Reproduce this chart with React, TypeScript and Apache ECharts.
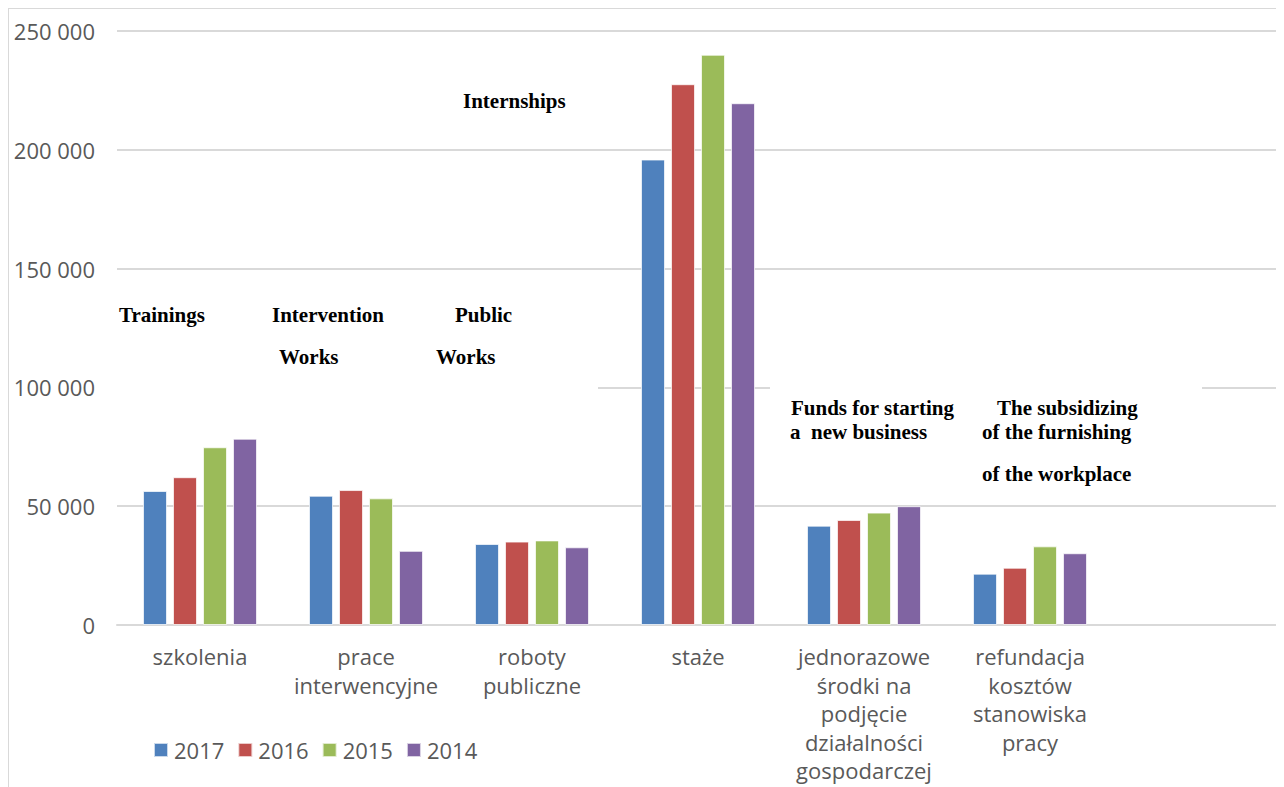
import React, { useEffect, useRef } from "react";
import * as echarts from "echarts";

const categories = [
  "szkolenia",
  "prace\ninterwencyjne",
  "roboty\npubliczne",
  "staże",
  "jednorazowe\nśrodki na\npodjęcie\ndziałalności\ngospodarczej",
  "refundacja\nkosztów\nstanowiska\npracy",
  "",
];
const seriesNames = ["2017", "2016", "2015", "2014"];
const values2017 = [56400, 54400, 34100, 195900, 41800, 21600, null];
const values2016 = [62200, 56800, 35100, 227600, 44200, 24100, null];
const values2015 = [74800, 53300, 35600, 240000, 47300, 33100, null];
const values2014 = [78400, 31200, 32700, 219600, 50000, 30200, null];
const colors = ["#4F81BD", "#C0504D", "#9BBB59", "#8064A2"];
const yTicks = { min: 0, max: 250000, interval: 50000 };

const annotations = [
  { text: "Internships", x: 455, y: 93 },
  { text: "Trainings", x: 111, y: 307 },
  { text: "Intervention", x: 264, y: 307 },
  { text: "Works", x: 271, y: 349 },
  { text: "Public", x: 447, y: 307 },
  { text: "Works", x: 428, y: 349 },
  { text: "Funds for starting", x: 783, y: 400 },
  { text: "a  new business", x: 782, y: 424 },
  { text: "The subsidizing", x: 989, y: 400 },
  { text: "of the furnishing", x: 974, y: 424 },
  { text: "of the workplace", x: 974, y: 466 },
];

const fmt = (v: number) => String(v).replace(/\B(?=(\d{3})+(?!\d))/g, " ");

export default function App() {
  const ref = useRef<HTMLDivElement>(null);
  useEffect(() => {
    if (!ref.current) return;
    const chart = echarts.init(ref.current, undefined, { renderer: "svg" });
    const all = [values2017, values2016, values2015, values2014];
    const font = '"Open Sans", sans-serif';
    chart.setOption({
      animation: false,
      color: colors,
      grid: { left: 109, right: 5, top: 23, bottom: 162, containLabel: false },
      legend: {
        left: 140,
        top: 726,
        itemWidth: 14,
        itemHeight: 14,
        itemGap: 13,
        icon: "rect",
        data: seriesNames,
        textStyle: { fontFamily: font, fontSize: 22, color: "#595959", padding: [0, 0, 0, 1] },
      },
      xAxis: {
        type: "category",
        data: categories,
        axisLine: { lineStyle: { color: "#d9d9d9", width: 2 } },
        axisTick: { show: false },
        axisLabel: {
          interval: 0,
          margin: 17,
          fontFamily: font,
          fontSize: 22,
          lineHeight: 28.5,
          color: "#595959",
        },
      },
      yAxis: {
        type: "value",
        min: yTicks.min,
        max: yTicks.max,
        interval: yTicks.interval,
        axisLine: { show: false },
        axisTick: { show: false },
        splitLine: { lineStyle: { color: "#d9d9d9", width: 2 } },
        axisLabel: {
          margin: 22,
          fontFamily: font,
          fontSize: 22,
          color: "#595959",
          formatter: (v: number) => fmt(v),
        },
      },
      series: seriesNames.map((name, i) => ({
        name,
        type: "bar",
        data: all[i],
        barWidth: 24,
        barGap: "25%",
        itemStyle: { borderColor: "rgba(255,255,255,0.7)", borderWidth: 1 },
      })),
      graphic: [
        { type: "line", shape: { x1: 0, y1: 0.5, x2: 1276, y2: 0.5 }, style: { stroke: "#d9d9d9", lineWidth: 1 }, z: 5 },
        { type: "line", shape: { x1: 0.5, y1: 0, x2: 0.5, y2: 779 }, style: { stroke: "#d9d9d9", lineWidth: 1 }, z: 5 },
        { type: "rect", shape: { x: 104, y: 282, width: 486, height: 110 }, style: { fill: "#ffffff" }, z: 1 },
        { type: "rect", shape: { x: 762, y: 372, width: 432, height: 115 }, style: { fill: "#ffffff" }, z: 1 },
        ...annotations.map((a) => ({
          type: "text",
          x: a.x,
          y: a.y,
          z: 6,
          style: {
            text: a.text,
            fill: "#000000",
            fontFamily: '"Liberation Serif", "Times New Roman", serif',
            fontWeight: "bold",
            fontSize: 21,
            verticalAlign: "middle",
            align: "left",
          },
        })),
      ],
    });
    return () => chart.dispose();
  }, []);
  return <div ref={ref} style={{ width: 1276, height: 779 }} />;
}
